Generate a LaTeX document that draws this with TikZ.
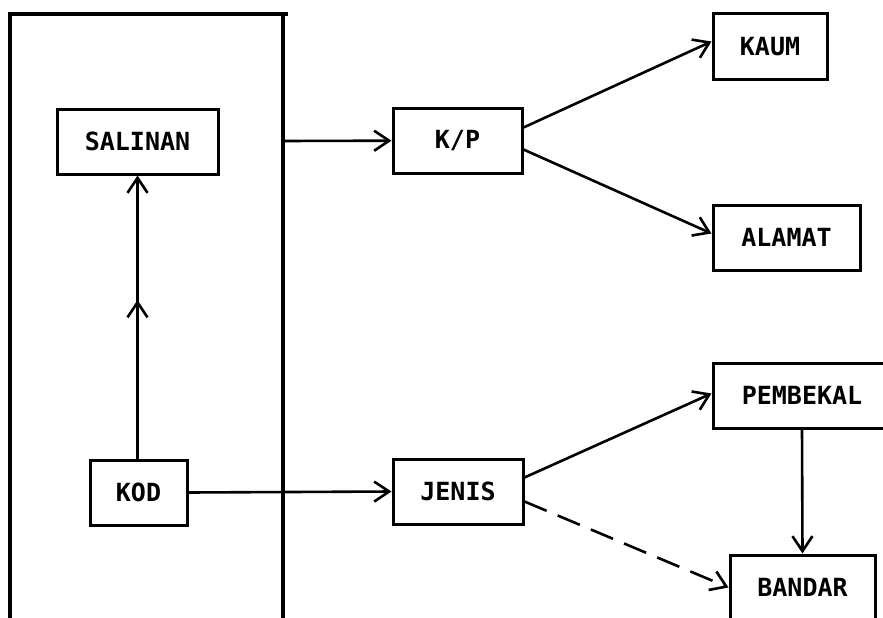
\documentclass[tikz,border=0pt]{standalone}
\usepackage{fontspec}
\setmonofont{DejaVu Sans Mono}
\usetikzlibrary{arrows.meta,decorations.markings}

\begin{document}
\begin{tikzpicture}[x=1pt, y=-1pt,
        box/.style={shape=rectangle, draw=black, line width=3pt, minimum height=65pt,
            inner sep=0pt, font=\ttfamily\bfseries\fontsize{25}{25}\selectfont},
        link/.style={line width=2.6pt, -{Straight Barb[length=15pt,width=20pt]}},
        midtip/.style={postaction={decorate}, decoration={markings,
            mark=at position 0.56 with {\arrow{Straight Barb[length=15pt,width=20pt]}}}}]
        \clip (0,0) rectangle (883,618);

        %frame
        \draw[line width=3.2pt] (283,640) -- (283,14);
        \draw[line width=3.2pt] (288,14) -- (10,14) -- (10,640);
        \coordinate (fr) at (283,141);

        \node[box, minimum width=161pt] (sal) at (137.5,141.5) {SALINAN};
        \node[box, minimum width=97pt] (kod) at (138.5,492.5) {KOD};
        \node[box, minimum width=129pt] (kp) at (457.5,140.5) {K/P};
        \node[box, minimum width=130pt] (jen) at (458,491.5) {JENIS};
        \node[box, minimum width=114pt] (kaum) at (770,46.5) {KAUM};
        \node[box, minimum width=147pt] (alm) at (786.5,237.5) {ALAMAT};
        \node[box, minimum width=178pt] (pem) at (802,395.5) {PEMBEKAL};
        \node[box, minimum width=145pt] (ban) at (802.5,587.5) {BANDAR};

        %inside the frame
        \draw[link, midtip] (kod.north -| sal.south) -- (sal.south);

        %out of the frame
        \draw[link] (fr) -- (kp);
        \draw[link] (kod.east) -- (jen.west);

        %from k/p
        \draw[link] ([yshift=13pt]kp.east) -- ([yshift=5pt]kaum.west);
        \draw[link] ([yshift=-9pt]kp.east) -- ([yshift=4pt]alm.west);

        %from jenis
        \draw[link] ([yshift=14pt]jen.east) -- ([yshift=2pt]pem.west);
        \draw[link, dash pattern=on 24pt off 12pt] ([yshift=-10pt]jen.east) -- (ban.west);
        \draw[link] (pem.south) -- (ban.north);
\end{tikzpicture}
\end{document}
